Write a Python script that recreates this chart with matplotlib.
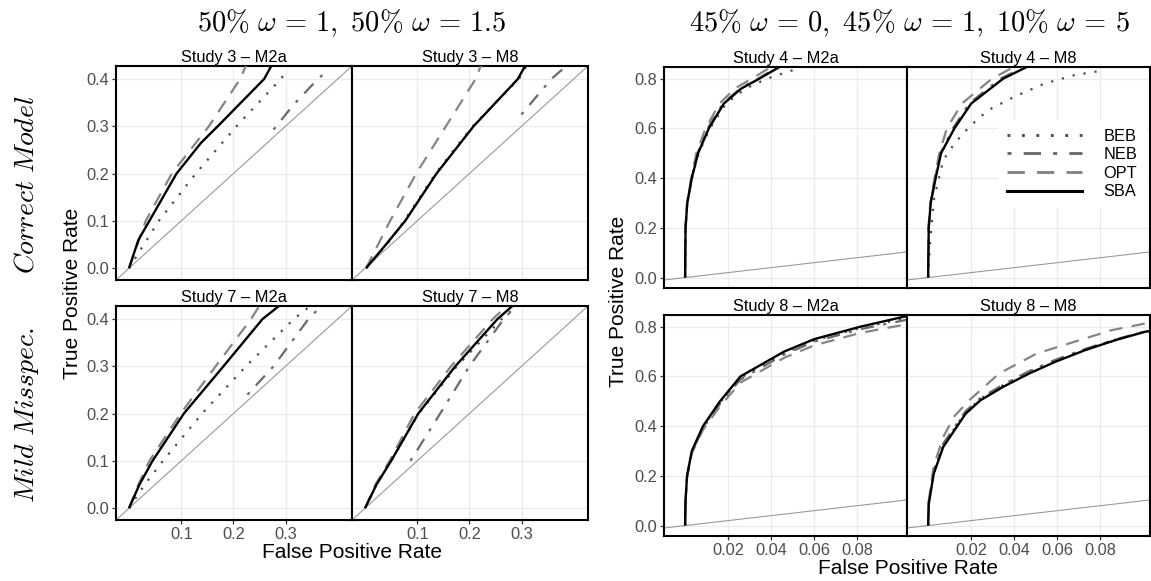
import matplotlib
matplotlib.use("Agg")
import matplotlib.pyplot as plt
from matplotlib.lines import Line2D
import numpy as np

plt.rcParams['font.family'] = ['Liberation Sans', 'DejaVu Sans']
plt.rcParams['mathtext.fontset'] = 'cm'

# ---------------- data ----------------
METHODS = ['BEB', 'NEB', 'OPT', 'SBA']
GROUP_TITLES = [r'$50\%\ \omega\,=\,1,$ $50\%\ \omega\,=\,1.5$',
                r'$45\%\ \omega\,=\,0,$ $45\%\ \omega\,=\,1,$ $10\%\ \omega\,=\,5$']
ROW_LABELS = [r'$Correct\ Model$', r'$Mild\ Misspec.$']
LEFT_XTICKS = [0.1, 0.2, 0.3]
LEFT_YTICKS = [0.0, 0.1, 0.2, 0.3, 0.4]
RIGHT_XTICKS = [0.02, 0.04, 0.06, 0.08]
RIGHT_YTICKS = [0.0, 0.2, 0.4, 0.6, 0.8]

# Study 3 - M2a
S3A_SBA_X = [0.000, 0.018, 0.039, 0.091, 0.138, 0.170, 0.259, 0.273]
S3A_SBA_Y = [0.000, 0.060, 0.100, 0.200, 0.265, 0.300, 0.400, 0.428]
S3A_OPT_X = [0.000, 0.032, 0.082, 0.153, 0.213, 0.224]
S3A_OPT_Y = [0.000, 0.100, 0.200, 0.300, 0.400, 0.428]
S3A_BEB_X = [0.000, 0.057, 0.128, 0.206, 0.291, 0.302]
S3A_BEB_Y = [0.000, 0.100, 0.200, 0.300, 0.400, 0.417]
S3A_NEB_X = [0.277, 0.315, 0.362, 0.380]
S3A_NEB_Y = [0.293, 0.345, 0.400, 0.417]
# Study 3 - M8
S3B_SBA_X = [0.002, 0.040, 0.077, 0.137, 0.208, 0.293, 0.307]
S3B_SBA_Y = [0.000, 0.050, 0.100, 0.200, 0.300, 0.400, 0.428]
S3B_OPT_X = [0.002, 0.048, 0.098, 0.155, 0.212, 0.222]
S3B_OPT_Y = [0.000, 0.100, 0.200, 0.300, 0.400, 0.428]
S3B_BEB_X = [0.002, 0.042, 0.075, 0.135, 0.206, 0.295, 0.310]
S3B_BEB_Y = [0.000, 0.050, 0.100, 0.200, 0.300, 0.400, 0.428]
S3B_NEB_X = [0.300, 0.357, 0.378]
S3B_NEB_Y = [0.325, 0.400, 0.420]
# Study 7 - M2a
S7A_SBA_X = [0.000, 0.020, 0.045, 0.105, 0.181, 0.256, 0.288]
S7A_SBA_Y = [0.000, 0.050, 0.100, 0.200, 0.300, 0.400, 0.428]
S7A_OPT_X = [0.000, 0.018, 0.039, 0.099, 0.166, 0.234, 0.250]
S7A_OPT_Y = [0.000, 0.050, 0.100, 0.200, 0.300, 0.400, 0.428]
S7A_BEB_X = [0.000, 0.030, 0.065, 0.140, 0.224, 0.316, 0.348]
S7A_BEB_Y = [0.000, 0.050, 0.100, 0.200, 0.300, 0.400, 0.428]
S7A_NEB_X = [0.227, 0.277, 0.344, 0.369]
S7A_NEB_Y = [0.240, 0.300, 0.400, 0.428]
# Study 7 - M8
S7B_SBA_X = [0.000, 0.022, 0.050, 0.102, 0.173, 0.254, 0.283]
S7B_SBA_Y = [0.000, 0.050, 0.100, 0.200, 0.300, 0.400, 0.428]
S7B_OPT_X = [0.000, 0.020, 0.047, 0.095, 0.165, 0.245, 0.272]
S7B_OPT_Y = [0.000, 0.050, 0.100, 0.200, 0.300, 0.400, 0.428]
S7B_BEB_X = [0.000, 0.022, 0.050, 0.103, 0.176, 0.262, 0.292]
S7B_BEB_Y = [0.000, 0.050, 0.100, 0.200, 0.300, 0.400, 0.428]
S7B_NEB_X = [0.087, 0.144, 0.200, 0.266, 0.290]
S7B_NEB_Y = [0.100, 0.200, 0.300, 0.400, 0.428]
# Study 4 - M2a
S4A_SBA_X = [0.0, 0.0002, 0.0010, 0.0031, 0.0060, 0.0110, 0.0180, 0.0260, 0.0344, 0.0440]
S4A_SBA_Y = [0.0, 0.200, 0.300, 0.400, 0.500, 0.600, 0.700, 0.760, 0.800, 0.848]
S4A_OPT_X = [0.0, 0.0002, 0.0009, 0.0028, 0.0052, 0.0095, 0.0160, 0.0230, 0.0310, 0.0400]
S4A_OPT_Y = [0.0, 0.200, 0.300, 0.400, 0.500, 0.600, 0.700, 0.760, 0.800, 0.848]
S4A_BEB_X = [0.0, 0.0002, 0.0010, 0.0032, 0.0063, 0.0115, 0.0190, 0.0280, 0.0380, 0.0520]
S4A_BEB_Y = [0.0, 0.200, 0.300, 0.400, 0.500, 0.600, 0.700, 0.760, 0.800, 0.840]
S4A_NEB_X = [0.0, 0.0002, 0.0010, 0.0030, 0.0058, 0.0105, 0.0175, 0.0255, 0.0340, 0.0430]
S4A_NEB_Y = [0.0, 0.200, 0.300, 0.400, 0.500, 0.600, 0.700, 0.760, 0.800, 0.848]
# Study 4 - M8
S4B_SBA_X = [0.0, 0.0003, 0.0012, 0.0035, 0.0060, 0.0122, 0.0200, 0.0348, 0.0460]
S4B_SBA_Y = [0.0, 0.200, 0.300, 0.400, 0.500, 0.600, 0.700, 0.800, 0.848]
S4B_OPT_X = [0.0, 0.0002, 0.0010, 0.0030, 0.0052, 0.0087, 0.0157, 0.0296, 0.0400]
S4B_OPT_Y = [0.0, 0.200, 0.300, 0.400, 0.500, 0.600, 0.700, 0.800, 0.848]
S4B_BEB_X = [0.0, 0.0010, 0.0026, 0.0070, 0.0122, 0.0191, 0.0278, 0.0400, 0.0539, 0.0678, 0.0817]
S4B_BEB_Y = [0.0, 0.150, 0.311, 0.472, 0.539, 0.606, 0.673, 0.727, 0.780, 0.814, 0.834]
S4B_NEB_X = [0.0, 0.0002, 0.0011, 0.0032, 0.0057, 0.0115, 0.0190, 0.0335, 0.0450]
S4B_NEB_Y = [0.0, 0.200, 0.300, 0.400, 0.500, 0.600, 0.700, 0.800, 0.848]
# Study 8 - M2a
S8A_X = [0.0, 0.0002, 0.0009, 0.0031, 0.0083, 0.0162, 0.0257, 0.0460, 0.0600, 0.0814, 0.1030]
S8A_SBA_Y = [0.0, 0.100, 0.200, 0.300, 0.400, 0.500, 0.600, 0.700, 0.750, 0.800, 0.843]
S8A_OPT_Y = [0.0, 0.100, 0.195, 0.290, 0.385, 0.480, 0.575, 0.675, 0.725, 0.775, 0.810]
S8A_NEB_Y = [0.0, 0.100, 0.198, 0.295, 0.392, 0.490, 0.588, 0.688, 0.740, 0.790, 0.828]
S8A_BEB_Y = [0.0, 0.100, 0.200, 0.298, 0.396, 0.495, 0.594, 0.694, 0.745, 0.795, 0.835]
# Study 8 - M8
S8B_X = [0.0, 0.0003, 0.0026, 0.0070, 0.0122, 0.0174, 0.0243, 0.0348, 0.0470, 0.0591, 0.0730, 0.0870, 0.1009, 0.1057]
S8B_SBA_Y = [0.0, 0.087, 0.208, 0.316, 0.383, 0.450, 0.504, 0.558, 0.612, 0.659, 0.706, 0.746, 0.780, 0.786]
S8B_BEB_Y = [0.0, 0.090, 0.215, 0.325, 0.390, 0.455, 0.510, 0.565, 0.620, 0.665, 0.710, 0.748, 0.780, 0.786]
S8B_NEB_Y = [0.0, 0.095, 0.220, 0.330, 0.395, 0.460, 0.513, 0.567, 0.622, 0.667, 0.711, 0.749, 0.781, 0.787]
S8B_OPT_X = [0.0, 0.0003, 0.0026, 0.0070, 0.0122, 0.0191, 0.0330, 0.0504, 0.0678, 0.0852, 0.1009, 0.1057]
S8B_OPT_Y = [0.0, 0.100, 0.240, 0.356, 0.440, 0.504, 0.612, 0.692, 0.739, 0.786, 0.813, 0.818]

# ---------------- styles ----------------
STYLE = {
    'BEB': dict(color='#4d4d4d', lw=1.6, ls=(0, (1, 4))),
    'NEB': dict(color='#6a6a6a', lw=1.6, ls=(0, (1.4, 4.2, 6, 4.2))),
    'OPT': dict(color='#858585', lw=1.6, ls=(0, (6, 4.2))),
    'SBA': dict(color='black', lw=1.7, ls='-'),
}

W, H = 1151, 581
fig = plt.figure(figsize=(W / 100, H / 100), dpi=100)


def rect(x0, y0, x1, y1):
    return [x0 / W, 1 - y1 / H, (x1 - x0) / W, (y1 - y0) / H]


panels = [
    ((116, 66, 352, 280), 'Study 3 – M2a',
     {'BEB': (S3A_BEB_X, S3A_BEB_Y), 'NEB': (S3A_NEB_X, S3A_NEB_Y),
      'OPT': (S3A_OPT_X, S3A_OPT_Y), 'SBA': (S3A_SBA_X, S3A_SBA_Y)}, 0, True, False),
    ((352, 66, 588, 280), 'Study 3 – M8',
     {'BEB': (S3B_BEB_X, S3B_BEB_Y), 'NEB': (S3B_NEB_X, S3B_NEB_Y),
      'OPT': (S3B_OPT_X, S3B_OPT_Y), 'SBA': (S3B_SBA_X, S3B_SBA_Y)}, 0, False, False),
    ((116, 306, 352, 520), 'Study 7 – M2a',
     {'BEB': (S7A_BEB_X, S7A_BEB_Y), 'NEB': (S7A_NEB_X, S7A_NEB_Y),
      'OPT': (S7A_OPT_X, S7A_OPT_Y), 'SBA': (S7A_SBA_X, S7A_SBA_Y)}, 0, True, True),
    ((352, 306, 588, 520), 'Study 7 – M8',
     {'BEB': (S7B_BEB_X, S7B_BEB_Y), 'NEB': (S7B_NEB_X, S7B_NEB_Y),
      'OPT': (S7B_OPT_X, S7B_OPT_Y), 'SBA': (S7B_SBA_X, S7B_SBA_Y)}, 0, False, True),
    ((664, 67, 907, 288), 'Study 4 – M2a',
     {'BEB': (S4A_BEB_X, S4A_BEB_Y), 'NEB': (S4A_NEB_X, S4A_NEB_Y),
      'OPT': (S4A_OPT_X, S4A_OPT_Y), 'SBA': (S4A_SBA_X, S4A_SBA_Y)}, 1, True, False),
    ((907, 67, 1150, 288), 'Study 4 – M8',
     {'BEB': (S4B_BEB_X, S4B_BEB_Y), 'NEB': (S4B_NEB_X, S4B_NEB_Y),
      'OPT': (S4B_OPT_X, S4B_OPT_Y), 'SBA': (S4B_SBA_X, S4B_SBA_Y)}, 1, False, False),
    ((664, 315, 907, 536), 'Study 8 – M2a',
     {'BEB': (S8A_X, S8A_BEB_Y), 'NEB': (S8A_X, S8A_NEB_Y),
      'OPT': (S8A_X, S8A_OPT_Y), 'SBA': (S8A_X, S8A_SBA_Y)}, 1, True, True),
    ((907, 315, 1150, 536), 'Study 8 – M8',
     {'BEB': (S8B_X, S8B_BEB_Y), 'NEB': (S8B_X, S8B_NEB_Y),
      'OPT': (S8B_OPT_X, S8B_OPT_Y), 'SBA': (S8B_X, S8B_SBA_Y)}, 1, False, True),
]

TICK_COLOR = '#4D4D4D'
legend_ax = None
for (r, title, data, grp, is_left, is_bottom) in panels:
    ax = fig.add_axes(rect(*r))
    if grp == 0:
        ax.set_xlim(-0.025, 0.4275)
        ax.set_ylim(-0.025, 0.4275)
        ax.set_xticks(LEFT_XTICKS)
        ax.set_yticks(LEFT_YTICKS)
    else:
        ax.set_xlim(-0.0098, 0.103)
        ax.set_ylim(-0.042, 0.847)
        ax.set_xticks(RIGHT_XTICKS)
        ax.set_yticks(RIGHT_YTICKS)
    ax.xaxis.set_major_formatter(matplotlib.ticker.FuncFormatter(
        lambda v, p, g=grp: ('%.1f' % v) if g == 0 else ('%.2f' % v)))
    ax.yaxis.set_major_formatter(matplotlib.ticker.FuncFormatter(lambda v, p: '%.1f' % v))
    ax.grid(which='major', color='#EBEBEB', lw=0.9)
    ax.set_axisbelow(True)
    ax.tick_params(which='major', labelsize=11.8, labelcolor=TICK_COLOR,
                   color='#333333', length=3.0, width=0.9, pad=2)
    if not is_left:
        ax.tick_params(axis='y', which='major', length=0, labelleft=False)
    if not is_bottom:
        ax.tick_params(axis='x', which='major', length=0, labelbottom=False)
    for sp in ax.spines.values():
        sp.set_color('black')
        sp.set_linewidth(1.5)
    ax.axline((0, 0), (1, 1), color='#9a9a9a', lw=0.8, zorder=1.5)
    for m in METHODS:
        xs, ys = data[m]
        st = STYLE[m]
        ax.plot(np.asarray(xs), np.asarray(ys), color=st['color'], lw=st['lw'],
                linestyle=st['ls'], dash_capstyle='butt', solid_capstyle='butt', zorder=3)
    ax.set_title(title, fontsize=11.8, pad=3)
    if title == 'Study 4 – M8':
        legend_ax = ax

# legend
handles = [Line2D([], [], color=STYLE[m]['color'], lw=STYLE[m]['lw'] * 1.3,
                  linestyle=STYLE[m]['ls'], dash_capstyle='butt') for m in METHODS]
leg = legend_ax.legend(handles, METHODS, loc='center left',
                       bbox_to_anchor=(998 / W, 1 - 164 / H), bbox_transform=fig.transFigure,
                       frameon=True, fancybox=False, framealpha=1, facecolor='white',
                       edgecolor='none', fontsize=11.8, handlelength=4.6,
                       handletextpad=1.3, labelspacing=0.22, borderpad=0.55,
                       borderaxespad=0)
leg.set_zorder(10)

# group titles
fig.text(352 / W, 1 - 23 / H, GROUP_TITLES[0], fontsize=20.5, ha='center', va='center')
fig.text(909 / W, 1 - 23 / H, GROUP_TITLES[1], fontsize=20.5, ha='center', va='center')
# row labels
fig.text(27 / W, 1 - 185 / H, ROW_LABELS[0], fontsize=20, rotation=90, ha='center', va='center')
fig.text(27 / W, 1 - 415 / H, ROW_LABELS[1], fontsize=20, rotation=90, ha='center', va='center')
# axis titles
fig.text(72 / W, 1 - 293 / H, 'True Positive Rate', fontsize=15, rotation=90, ha='center', va='center')
fig.text(618 / W, 1 - 301 / H, 'True Positive Rate', fontsize=15, rotation=90, ha='center', va='center')
fig.text(352 / W, 1 - 553 / H, 'False Positive Rate', fontsize=15, ha='center', va='center')
fig.text(908 / W, 1 - 568 / H, 'False Positive Rate', fontsize=15, ha='center', va='center')

fig.savefig('out.png', dpi=100)
